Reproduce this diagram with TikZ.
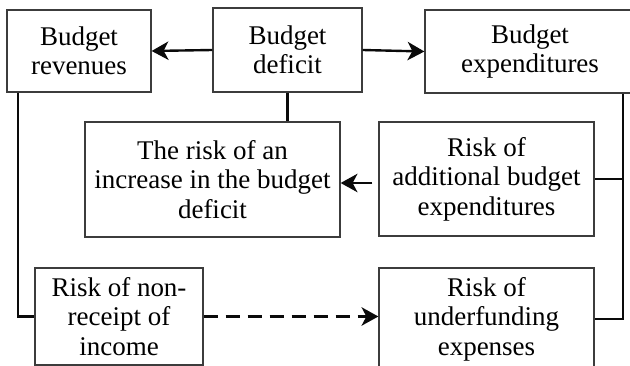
\documentclass[tikz,border=0pt]{standalone}
\usepackage{fontspec}
\setmainfont{Liberation Serif}
\newfontfamily\boxfont{Liberation Serif}
\definecolor{ink}{RGB}{10,10,10}
\definecolor{frame}{RGB}{60,60,60}
\usetikzlibrary{arrows.meta,positioning}
\begin{document}
\begin{tikzpicture}[
    box/.style={draw=frame,line width=0.9pt,fill=white,align=center,inner sep=2pt,
      font=\boxfont\fontsize{19.2}{21}\selectfont},
    link/.style={ink,line width=1.7pt},
    tip/.style={-{Stealth[length=0.42cm,width=0.46cm,inset=0.12cm]}}
  ]
  \useasboundingbox (0,0) rectangle (15.75,9.15);
  \clip (0,0) rectangle (15.75,9.15);
  % top row
  \node[box,minimum width=3.6cm,minimum height=2.05cm] (rev) at (1.975,7.875) {Budget\\revenues};
  \node[box,minimum width=3.725cm,minimum height=2.1cm] (def) at (7.1875,7.9) {Budget\\deficit};
  \node[box,minimum width=5.25cm,minimum height=2.075cm] (exp) at (13.25,7.8625) {Budget\\expenditures};
  % middle row
  \node[box,minimum width=6.375cm,minimum height=2.875cm] (inc) at (5.3125,4.6625) {The risk of an\\increase in the budget\\deficit};
  \node[box,minimum width=5.375cm,minimum height=2.85cm] (add) at (12.1625,4.675) {Risk of\\additional budget\\expenditures};
  % bottom row
  \node[box,minimum width=4.2cm,minimum height=2.425cm] (non) at (2.975,1.2375) {Risk of non-\\receipt of\\income};
  \node[box,minimum width=5.375cm,minimum height=2.55cm] (und) at (12.1625,1.175) {Risk of\\underfunding\\expenses};
  % side buses
  \coordinate (lbus) at (0.45,0);
  \coordinate (rbus) at (15.575,0);
  \draw[link,tip] (def.west) -- (rev.east);
  \draw[link,tip] (def.east) -- (exp.west);
  \draw[link] (def.south) -- (def.south |- inc.north);
  \draw[link,tip,shorten <=0.15cm] ([yshift=-0.1cm]add.west) -- ([yshift=-0.1cm]inc.east |- add.west);
  \draw[link] (exp.south -| rbus) -- (rbus |- und.east) -- (und.east);
  \draw[link] (add.east) -- (add.east -| rbus);
  \draw[link] (rev.south -| lbus) -- (lbus |- non.west) -- (non.west);
  \draw[link,tip,dash pattern=on 0.37cm off 0.18cm] (non.east) -- (non.east -| und.west);
\end{tikzpicture}
\end{document}
